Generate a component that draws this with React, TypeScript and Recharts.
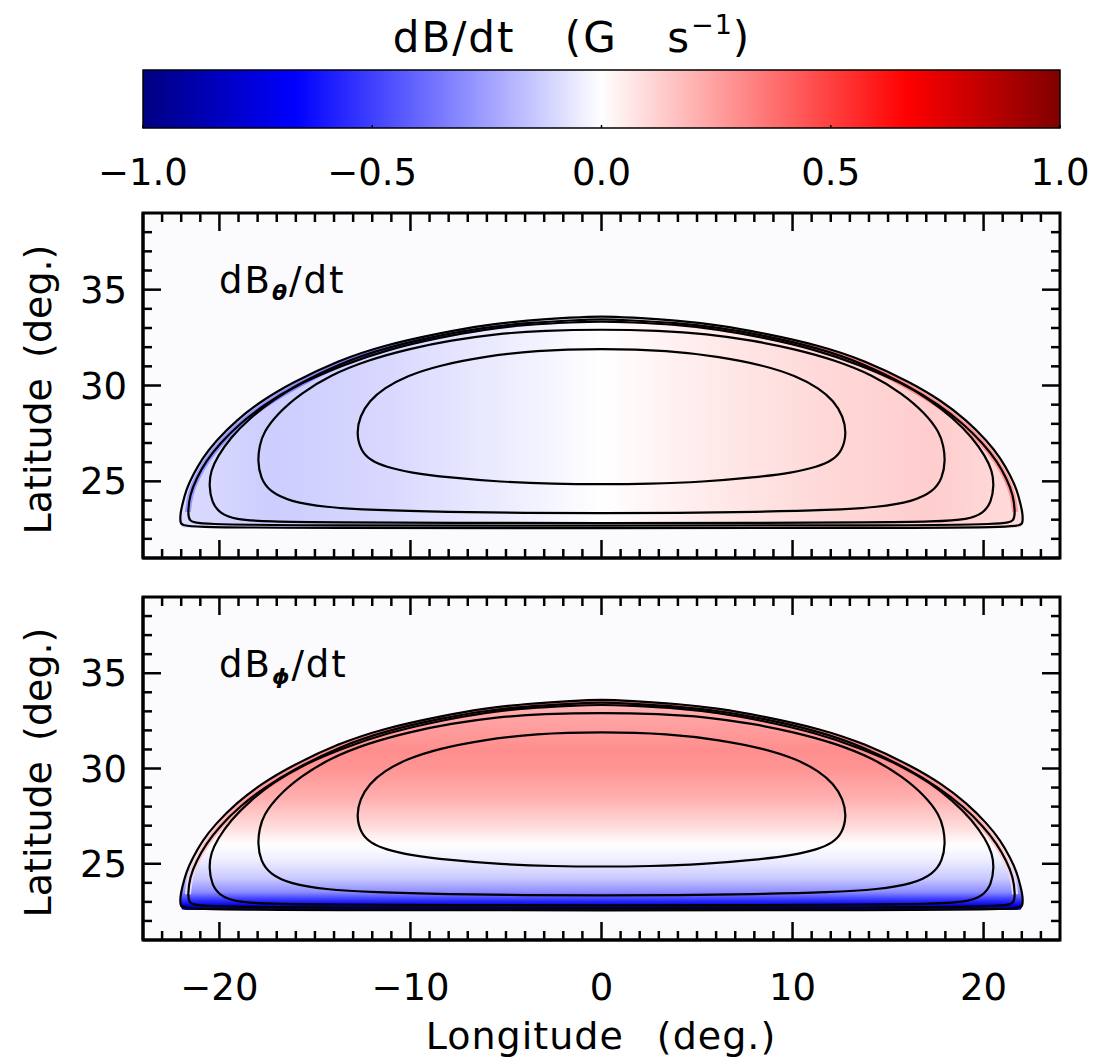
import React from "react"
import { ComposedChart, XAxis, YAxis, Line, Area, ReferenceArea } from "recharts"

const FONT = '"DejaVu Sans", Verdana, sans-serif'

// colour bar
const colorbarTicks = [-1, -0.5, 0, 0.5, 1]
const colorbarEnds = [-1, 1]
const colorbarStops: [number, string][] = [
  [0, "#000080"],
  [0.1667, "#0000ff"],
  [0.5, "#ffffff"],
  [0.8333, "#ff0000"],
  [1, "#800000"],
]

// axis ticks (degrees)
const lonMajor = [-20, -10, 0, 10, 20]
const lonTicks = [
  -23, -22, -21, -20, -19, -18, -17, -16, -15, -14, -13, -12, -11, -10, -9, -8, -7, -6, -5, -4, -3, -2, -1,
  0, 1, 2, 3, 4, 5, 6, 7, 8, 9, 10, 11, 12, 13, 14, 15, 16, 17, 18, 19, 20, 21, 22, 23,
]
const latMajor = [25, 30, 35]
const latTicks = [22, 23, 24, 25, 26, 27, 28, 29, 30, 31, 32, 33, 34, 35, 36, 37, 38]

// contour lines, [lon, lat] (same field |B| in both panels)
const contourOuter = [
  [-22.05, 23.3], [-21.95, 23.75], [-21.75, 24.55], [-21.4, 25.3], [-20.9, 26.2], [-20.2, 27.1],
  [-19.1, 28.2], [-17.8, 29.2], [-16.2, 30.15], [-13.8, 31.3], [-11.4, 32.1], [-8.4, 32.75],
  [-6.15, 33.15], [-3.9, 33.4], [-1.5, 33.55], [0, 33.62], [1.5, 33.55], [3.9, 33.4], [6.15, 33.15],
  [8.4, 32.75], [11.4, 32.1], [13.8, 31.3], [16.2, 30.15], [17.8, 29.2], [19.1, 28.2], [20.2, 27.1],
  [20.9, 26.2], [21.4, 25.3], [21.75, 24.55], [21.95, 23.75], [22.05, 23.3], [22.05, 22.8],
  [21.9, 22.6], [15, 22.57], [0, 22.55], [-15, 22.57], [-21.9, 22.6], [-22.05, 22.8],
]
const contourB = [
  [-21.65, 23.4], [-21.55, 24.3], [-21.2, 25.15], [-20.7, 26.05], [-20.0, 26.95], [-18.95, 28.0],
  [-17.65, 29.0], [-16.05, 29.98], [-13.7, 31.15], [-11.3, 31.98], [-8.4, 32.63], [-6.1, 33.03],
  [-3.9, 33.27], [-1.5, 33.4], [0, 33.48], [1.5, 33.4], [3.9, 33.27], [6.1, 33.03], [8.4, 32.63],
  [11.3, 31.98], [13.7, 31.15], [16.05, 29.98], [17.65, 29.0], [18.95, 28.0], [20.0, 26.95],
  [20.7, 26.05], [21.2, 25.15], [21.55, 24.3], [21.65, 23.4], [21.6, 22.95], [21.2, 22.75],
  [15, 22.7], [0, 22.68], [-15, 22.7], [-21.2, 22.75], [-21.6, 22.95],
]
const contourC = [
  [-20.55, 24.8], [-20.45, 25.55], [-20.1, 26.3], [-19.4, 27.3], [-18.4, 28.3], [-17.2, 29.25],
  [-15.7, 30.15], [-13.6, 31.05], [-11.2, 31.88], [-8.4, 32.52], [-6.1, 32.93], [-3.9, 33.18],
  [-1.5, 33.3], [0, 33.35], [1.5, 33.3], [3.9, 33.18], [6.1, 32.93], [8.4, 32.52], [11.2, 31.88],
  [13.6, 31.05], [15.7, 30.15], [17.2, 29.25], [18.4, 28.3], [19.4, 27.3], [20.1, 26.3],
  [20.45, 25.55], [20.55, 24.8], [20.4, 23.9], [20.0, 23.35], [19.2, 23.0], [17.5, 22.9],
  [14, 22.86], [8, 22.83], [0, 22.82], [-8, 22.83], [-14, 22.86], [-17.5, 22.9], [-19.2, 23.0],
  [-20.0, 23.35], [-20.4, 23.9],
]
const contourD = [
  [-18.0, 26.1], [-17.9, 26.85], [-17.7, 27.55], [-16.95, 28.55], [-15.75, 29.58], [-14.2, 30.54],
  [-12.25, 31.32], [-10.0, 31.93], [-7.9, 32.35], [-5.5, 32.7], [-3, 32.87], [0, 32.93], [3, 32.87],
  [5.5, 32.7], [7.9, 32.35], [10.0, 31.93], [12.25, 31.32], [14.2, 30.54], [15.75, 29.58],
  [16.95, 28.55], [17.7, 27.55], [17.9, 26.85], [18.0, 26.1], [17.85, 25.15], [17.35, 24.45],
  [16.3, 23.95], [14.5, 23.65], [12, 23.5], [8, 23.4], [4, 23.35], [0, 23.33], [-4, 23.35],
  [-8, 23.4], [-12, 23.5], [-14.5, 23.65], [-16.3, 23.95], [-17.35, 24.45], [-17.85, 25.15],
]
const contourE = [
  [-12.83, 27.5], [-12.65, 28.4], [-12.15, 29.2], [-11.4, 29.85], [-10.2, 30.5], [-8.5, 31.05],
  [-6.2, 31.5], [-3.5, 31.83], [0, 31.93], [3.5, 31.83], [6.2, 31.5], [8.5, 31.05], [10.2, 30.5],
  [11.4, 29.85], [12.15, 29.2], [12.65, 28.4], [12.83, 27.5], [12.6, 26.6], [12.1, 26.1],
  [11.3, 25.75], [10, 25.45], [8, 25.2], [5.3, 24.97], [2.5, 24.87], [0, 24.85], [-2.5, 24.87],
  [-5.3, 24.97], [-8, 25.2], [-10, 25.45], [-11.3, 25.75], [-12.1, 26.1], [-12.6, 26.6],
]
// region inside the outer contour: [lon, lowLat, highLat]
const outerBand = [
  [-22.05, 22.8, 23.3], [-21.95, 22.6, 23.75], [-21.75, 22.58, 24.55], [-21.4, 22.57, 25.3],
  [-20.9, 22.57, 26.2], [-20.2, 22.57, 27.1], [-19.1, 22.57, 28.2], [-17.8, 22.57, 29.2],
  [-16.2, 22.57, 30.15], [-13.8, 22.56, 31.3], [-11.4, 22.56, 32.1], [-8.4, 22.55, 32.75],
  [-6.15, 22.55, 33.15], [-3.9, 22.55, 33.4], [-1.5, 22.55, 33.55], [0, 22.55, 33.62],
  [1.5, 22.55, 33.55], [3.9, 22.55, 33.4], [6.15, 22.55, 33.15], [8.4, 22.55, 32.75],
  [11.4, 22.56, 32.1], [13.8, 22.56, 31.3], [16.2, 22.57, 30.15], [17.8, 22.57, 29.2],
  [19.1, 22.57, 28.2], [20.2, 22.57, 27.1], [20.9, 22.57, 26.2], [21.4, 22.57, 25.3],
  [21.75, 22.58, 24.55], [21.95, 22.6, 23.75], [22.05, 22.8, 23.3],
]

// dB_theta/dt: varies mostly with longitude
const thetaFill: [number, string][] = [
  [0, "#dcdcff"], [0.11, "#cdcdff"], [0.23, "#d6d6ff"], [0.32, "#e3e3ff"], [0.41, "#f0f0ff"],
  [0.5, "#ffffff"], [0.59, "#fff0f0"], [0.68, "#ffe3e3"], [0.77, "#ffd8d8"], [0.89, "#ffcdcd"],
  [1, "#ffdcdc"],
]
const thetaEdge: [number, string][] = [
  [0, "#9a9aff"], [0.25, "#7c7cff"], [0.42, "#d6d6ff"], [0.5, "#ffffff"], [0.58, "#ffd6d6"],
  [0.75, "#ff7c7c"], [1, "#ff9a9a"],
]
// dB_phi/dt: varies mostly with latitude (top -> bottom)
const phiFill: [number, string][] = [
  [0, "#ffc0c0"], [0.074, "#ffa6a6"], [0.237, "#ff8e8e"], [0.327, "#ff9494"], [0.47, "#ffb0b0"],
  [0.616, "#ffe0e0"], [0.688, "#ffffff"], [0.76, "#eeeeff"], [0.85, "#c8c8ff"], [0.913, "#8c8cff"],
  [0.95, "#3434ff"], [0.977, "#0000e0"], [1, "#000090"],
]
const phiEdge: [number, string][] = [
  [0, "#ff7a7a"], [0.5, "#ff9a9a"], [0.8, "#ffd0d0"], [1, "#e0e0ff"],
]

const toPts = (c: number[][]) => c.map(([lon, lat]) => ({ lon, lat }))
const bandData = outerBand.map(([lon, lo, hi]) => ({ lon, band: [lo, hi] }))
const contours = [contourOuter, contourB, contourC, contourD, contourE].map(toPts)
const edgeArc = toPts(contourB.slice(0, 29))
const colorbarData = colorbarEnds.map((v) => ({ v, band: [0, 1] }))

const PLOT_LEFT = 143
const PLOT_W = 917
const minus = (s: string) => s.replace("-", "\u2212")

const panels = [
  { id: "theta", sub: "\u03b8", top: 190, height: 400, mt: 23, mb: 31, plotH: 345, lonLabels: false,
    fill: thetaFill, fillVertical: false, edge: thetaEdge, edgeVertical: false },
  { id: "phi", sub: "\u03d5", top: 575, height: 489, mt: 22, mb: 123, plotH: 343, lonLabels: true,
    fill: phiFill, fillVertical: true, edge: phiEdge, edgeVertical: true },
]

function grad(id: string, stops: [number, string][], vertical: boolean) {
  return (
    <linearGradient id={id} x1="0" y1="0" x2={vertical ? "0" : "1"} y2={vertical ? "1" : "0"}>
      {stops.map(([o, c]) => (
        <stop key={o} offset={o} stopColor={c} />
      ))}
    </linearGradient>
  )
}

function makeXTick(plotH: number, labels: boolean) {
  return (props: any) => {
    const { x, y, payload } = props
    const v = payload.value
    const major = lonMajor.includes(v)
    const len = major ? 18 : 9
    return (
      <g>
        <line x1={x} x2={x} y1={y} y2={y - len} stroke="#000" strokeWidth={2.5} />
        <line x1={x} x2={x} y1={y - plotH} y2={y - plotH + len} stroke="#000" strokeWidth={2.5} />
        {labels && major && (
          <text x={x} y={y + 60} textAnchor="middle" fontSize={37} fontFamily={FONT} fill="#000">
            {minus(String(v))}
          </text>
        )}
      </g>
    )
  }
}

function YTick(props: any) {
  const { x, y, payload } = props
  const v = payload.value
  const major = latMajor.includes(v)
  const len = major ? 18 : 9
  return (
    <g>
      <line x1={x} x2={x + len} y1={y} y2={y} stroke="#000" strokeWidth={2.5} />
      <line x1={x + PLOT_W} x2={x + PLOT_W - len} y1={y} y2={y} stroke="#000" strokeWidth={2.5} />
      {major && (
        <text x={x - 16} y={y + 13} textAnchor="end" fontSize={37} fontFamily={FONT} fill="#000">
          {v}
        </text>
      )}
    </g>
  )
}

function CbarTick(props: any) {
  const { x, y, payload } = props
  const v = payload.value
  return (
    <g>
      <line x1={x} x2={x} y1={y} y2={y - 3} stroke="#000" strokeWidth={1.5} />
      <text x={x} y={y + 57} textAnchor="middle" fontSize={37} fontFamily={FONT} fill="#000">
        {minus(v.toFixed(1))}
      </text>
    </g>
  )
}

function Panel({ p }: { p: (typeof panels)[number] }) {
  return (
    <div style={{ position: "absolute", left: 0, top: p.top }}>
      <div
        style={{
          position: "absolute",
          left: PLOT_LEFT,
          top: p.mt,
          width: PLOT_W,
          height: p.plotH,
          background: "#fbfbfe",
        }}
      />
      <div style={{ position: "absolute", left: 0, top: 0 }}>
        <ComposedChart width={1098} height={p.height} margin={{ top: p.mt, right: 38, bottom: p.mb, left: PLOT_LEFT - 1 }}>
          <defs>
            {grad(`fill-${p.id}`, p.fill, p.fillVertical)}
            {grad(`edge-${p.id}`, p.edge, p.edgeVertical)}
          </defs>
          <XAxis
            type="number"
            dataKey="lon"
            domain={[-24, 24]}
            allowDataOverflow
            ticks={lonTicks}
            interval={0}
            height={1}
            tickSize={0}
            tickMargin={0}
            tickLine={false}
            axisLine={{ stroke: "#000", strokeWidth: 3 }}
            tick={makeXTick(p.plotH, p.lonLabels)}
          />
          <YAxis
            type="number"
            domain={[21, 39]}
            allowDataOverflow
            ticks={latTicks}
            interval={0}
            width={1}
            tickSize={0}
            tickMargin={0}
            tickLine={false}
            axisLine={{ stroke: "#000", strokeWidth: 3 }}
            tick={YTick}
          />
          <Area
            data={bandData}
            dataKey="band"
            type="linear"
            stroke="none"
            fill={`url(#fill-${p.id})`}
            fillOpacity={1}
            isAnimationActive={false}
            activeDot={false}
          />
          <Line
            data={edgeArc}
            dataKey="lat"
            type="basis"
            stroke={`url(#edge-${p.id})`}
            strokeWidth={6}
            dot={false}
            activeDot={false}
            isAnimationActive={false}
          />
          {contours.map((c, i) => (
            <Line
              key={i}
              data={c}
              dataKey="lat"
              type="basisClosed"
              stroke="#000"
              strokeWidth={2.2}
              dot={false}
              activeDot={false}
              isAnimationActive={false}
            />
          ))}
          <ReferenceArea x1={-24} x2={24} y1={21} y2={39} fill="none" stroke="#000" strokeWidth={3} />
        </ComposedChart>
      </div>
    </div>
  )
}

export default function App() {
  const p1 = panels[0]
  const p2 = panels[1]
  const latY1 = p1.top + p1.mt + p1.plotH / 2 + 4
  const latY2 = p2.top + p2.mt + p2.plotH / 2 + 4
  return (
    <div style={{ position: "absolute", left: 0, top: 0, width: 1098, height: 1064, background: "#fff" }}>
      <div style={{ position: "absolute", left: 0, top: 0 }}>
        <ComposedChart width={1098} height={200} margin={{ top: 70, right: 38, bottom: 71, left: PLOT_LEFT }}>
          <defs>{grad("cbar", colorbarStops, false)}</defs>
          <XAxis
            type="number"
            dataKey="v"
            domain={[-1, 1]}
            allowDataOverflow
            ticks={colorbarTicks}
            interval={0}
            height={1}
            tickSize={0}
            tickMargin={0}
            tickLine={false}
            axisLine={false}
            tick={CbarTick}
          />
          <YAxis type="number" domain={[0, 1]} allowDataOverflow hide />
          <Area
            data={colorbarData}
            dataKey="band"
            type="linear"
            stroke="none"
            fill="url(#cbar)"
            fillOpacity={1}
            isAnimationActive={false}
            activeDot={false}
          />
          <ReferenceArea x1={-1} x2={1} y1={0} y2={1} fill="none" stroke="#000" strokeWidth={1.5} />
        </ComposedChart>
      </div>
      {panels.map((p) => (
        <Panel key={p.id} p={p} />
      ))}
      <svg
        width={1098}
        height={1064}
        style={{ position: "absolute", left: 0, top: 0, pointerEvents: "none" }}
        fontFamily={FONT}
      >
        <text x={572} y={52} textAnchor="middle" fontSize={42} wordSpacing={34} letterSpacing={2}>
          dB/dt (G s<tspan fontSize={27} dy={-18} letterSpacing={1}>{"\u22121"}</tspan>
          <tspan fontSize={42} dy={18}>)</tspan>
        </text>
        {[latY1, latY2].map((cy, i) => (
          <text key={i} transform={`translate(51,${cy}) rotate(-90)`} textAnchor="middle" fontSize={38} wordSpacing={8}>
            Latitude (deg.)
          </text>
        ))}
        <text x={601} y={1049} textAnchor="middle" fontSize={38} wordSpacing={20} letterSpacing={1}>
          Longitude (deg.)
        </text>
        {panels.map((p) => (
          <text key={p.id} x={219} y={p.top + p.mt + 80} fontSize={37} letterSpacing={2}>
            dB
            <tspan fontSize={22} fontWeight="bold" fontStyle="italic" dy={7}>
              {p.sub}
            </tspan>
            <tspan dy={-7} fontSize={37}>
              /dt
            </tspan>
          </text>
        ))}
      </svg>
    </div>
  )
}
